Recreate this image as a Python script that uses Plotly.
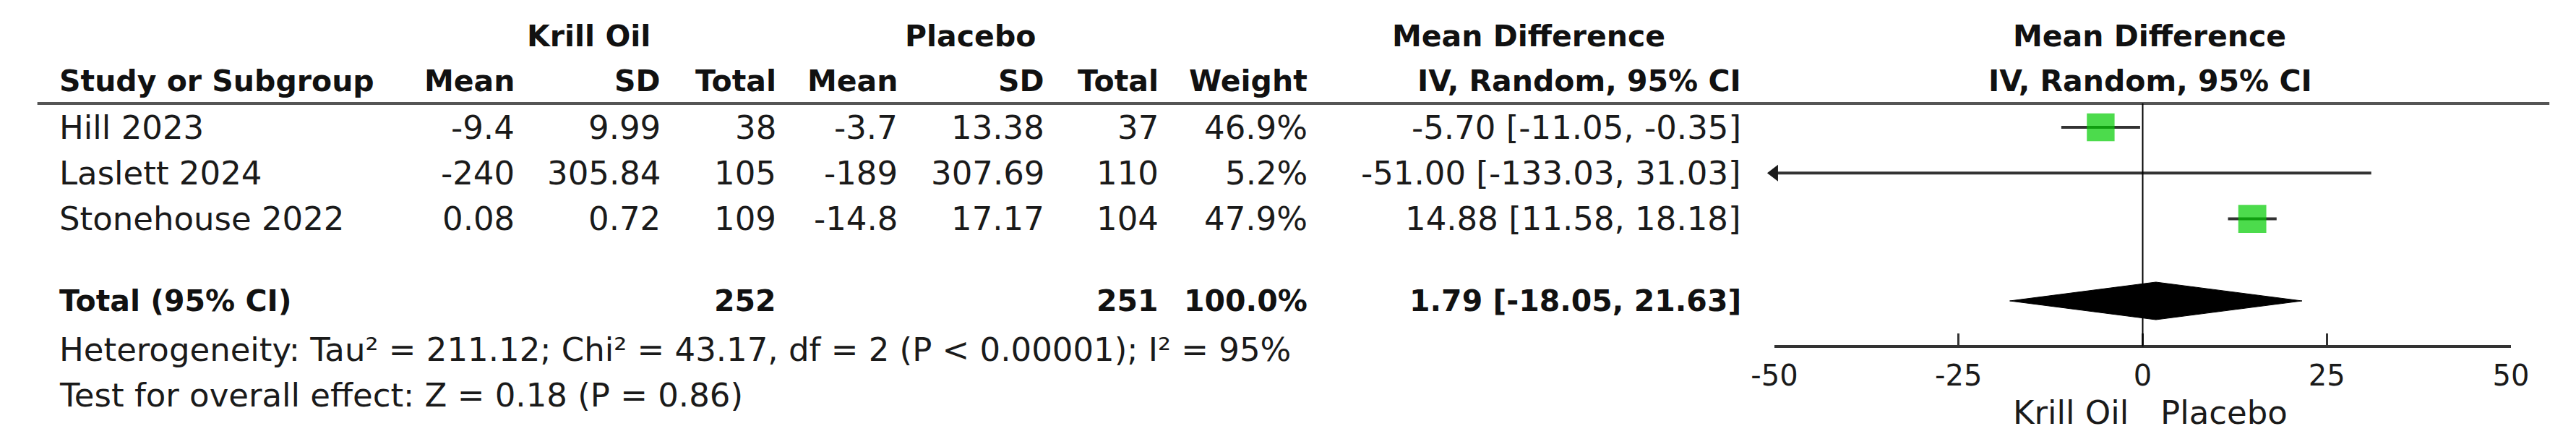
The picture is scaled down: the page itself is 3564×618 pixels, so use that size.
import plotly.graph_objects as go

# ---------------- data ----------------
studies = ["Hill 2023", "Laslett 2024", "Stonehouse 2022"]
ko_mean = [-9.4, -240, 0.08]
ko_sd = [9.99, 305.84, 0.72]
ko_n = [38, 105, 109]
pl_mean = [-3.7, -189, -14.8]
pl_sd = [13.38, 307.69, 17.17]
pl_n = [37, 110, 104]
weights = [46.9, 5.2, 47.9]
md = [-5.70, -51.00, 14.88]
md_lo = [-11.05, -133.03, 11.58]
md_hi = [-0.35, 31.03, 18.18]

total_ko_n = 252
total_pl_n = 251
total_weight = 100.0
pooled_md = 1.79
pooled_lo = -18.05
pooled_hi = 21.63

tau2 = 211.12
chi2 = 43.17
df = 2
p_het = "< 0.00001"
i2 = 95
z_val = 0.18
p_overall = 0.86

x_ticks = [-50, -25, 0, 25, 50]
x_range = [-50, 50]
group_labels = ["Krill Oil", "Placebo"]

# ---------------- layout constants (pixels) ----------------
W, H = 3564, 618
ROW0, ROWH = 176, 63.3          # pixel centre of first study row, row pitch


def row(px):
    return (px - ROW0) / ROWH


def xp(px):
    return px / W


FONT = "DejaVu Sans"
REG = 45
BOLD = 41
TXT = "#1a1a1a"

fig = go.Figure()

# CI lines
for i in range(len(studies)):
    fig.add_trace(go.Scatter(
        x=[md_lo[i], md_hi[i]], y=[i, i], mode="lines",
        line=dict(color="#333333", width=4), hoverinfo="skip", showlegend=False))

# arrow for CIs beyond the axis
arr_x, arr_y = [], []
for i in range(len(studies)):
    if md_lo[i] < x_range[0]:
        arr_x.append(x_range[0]); arr_y.append(i)
fig.add_trace(go.Scatter(
    x=arr_x, y=arr_y, mode="markers", cliponaxis=False,
    marker=dict(symbol="triangle-left", size=20, color="#1a1a1a"),
    hoverinfo="skip", showlegend=False))

# weighted squares
fig.add_trace(go.Scatter(
    x=md, y=list(range(len(studies))), mode="markers",
    marker=dict(symbol="square", color="#00CC00",
                size=[5.6 * w ** 0.5 for w in weights], line=dict(width=0)),
    hoverinfo="skip", showlegend=False))

# pooled diamond
tr = row(416)
dh = 26 / ROWH
fig.add_trace(go.Scatter(
    x=[pooled_lo, pooled_md, pooled_hi, pooled_md, pooled_lo],
    y=[tr, tr - dh, tr, tr + dh, tr], mode="lines", fill="toself",
    fillcolor="black", line=dict(color="black", width=1),
    hoverinfo="skip", showlegend=False))

shapes = []
# header rule
shapes.append(dict(type="line", xref="paper", yref="y", x0=xp(19), x1=xp(3552),
                   y0=row(143), y1=row(143), line=dict(color="#555555", width=4)))
# zero line
shapes.append(dict(type="line", xref="x", yref="y", x0=0, x1=0,
                   y0=row(143), y1=row(479), line=dict(color="black", width=2)))
fig.update_layout(shapes=shapes)

ann = []


def add_text(text, x, y, anchor="right", bold=False, xref="paper", size=None, xshift=0):
    ann.append(dict(text=text, x=x, y=y, xref=xref, yref="y", xanchor=anchor,
                    yanchor="middle", showarrow=False, xshift=xshift,
                    font=dict(family=FONT, size=size or (BOLD if bold else REG),
                              color="#111111" if bold else TXT,
                              weight="bold" if bold else "normal")))


# header row 1
h1 = row(50)
add_text(group_labels[0], xp(794), h1, "center", True)
add_text(group_labels[1], xp(1331), h1, "center", True)
add_text("Mean Difference", xp(2116), h1, "center", True)
add_text("Mean Difference", 0, h1, "center", True, xref="x", xshift=9)
# header row 2
h2 = row(112)
add_text("Study or Subgroup", xp(48), h2, "left", True)
col_r = [692, 898, 1060, 1231, 1437, 1598, 1807, 2417]
for name, px in zip(["Mean", "SD", "Total", "Mean", "SD", "Total", "Weight",
                     "IV, Random, 95% CI"], col_r):
    add_text(name, xp(px), h2, "right", True)
add_text("IV, Random, 95% CI", 0, h2, "center", True, xref="x", xshift=10)

# study rows
for i, s in enumerate(studies):
    add_text(s, xp(48), i, "left")
    vals = [f"{ko_mean[i]:g}", f"{ko_sd[i]:g}", f"{ko_n[i]}",
            f"{pl_mean[i]:g}", f"{pl_sd[i]:g}", f"{pl_n[i]}",
            f"{weights[i]:.1f}%",
            f"{md[i]:.2f} [{md_lo[i]:.2f}, {md_hi[i]:.2f}]"]
    for v, px in zip(vals, col_r):
        add_text(v, xp(px), i, "right")

# total row
add_text("Total (95% CI)", xp(48), tr, "left", True)
add_text(f"{total_ko_n}", xp(col_r[2]), tr, "right", True)
add_text(f"{total_pl_n}", xp(col_r[5]), tr, "right", True)
add_text(f"{total_weight:.1f}%", xp(col_r[6]), tr, "right", True)
add_text(f"{pooled_md:.2f} [{pooled_lo:.2f}, {pooled_hi:.2f}]", xp(col_r[7]), tr, "right", True)

# footers
add_text(f"Heterogeneity: Tau² = {tau2:.2f}; Chi² = {chi2:.2f}, df = {df} (P {p_het}); I² = {i2}%",
         xp(48), row(483), "left")
add_text(f"Test for overall effect: Z = {z_val:.2f} (P = {p_overall:.2f})",
         xp(48), row(546), "left")

# favours labels
add_text(group_labels[0], 0, row(570), "right", xref="x", xshift=-18)
add_text(group_labels[1], 0, row(570), "left", xref="x", xshift=22)

fig.update_layout(annotations=ann)

fig.update_layout(
    width=W, height=H, margin=dict(l=0, r=0, t=0, b=0),
    paper_bgcolor="white", plot_bgcolor="white",
    xaxis=dict(domain=[xp(2462), xp(3498)], range=x_range, anchor="free",
               position=(H - 479) / H, showgrid=False, zeroline=False,
               showline=True, linecolor="#333333", linewidth=4,
               ticks="inside", ticklen=16, tickwidth=3, tickcolor="#333333",
               tickvals=x_ticks, ticktext=[str(t) for t in x_ticks],
               tickfont=dict(family=FONT, size=40, color=TXT),
               ticklabelstandoff=4),
    yaxis=dict(domain=[0, 1], range=[row(H), row(0)], visible=False,
               showgrid=False, zeroline=False),
)

fig.write_html("out.html", config={"displayModeBar": False},
               post_script="document.body.style.margin='0';document.body.style.overflow='hidden';")
